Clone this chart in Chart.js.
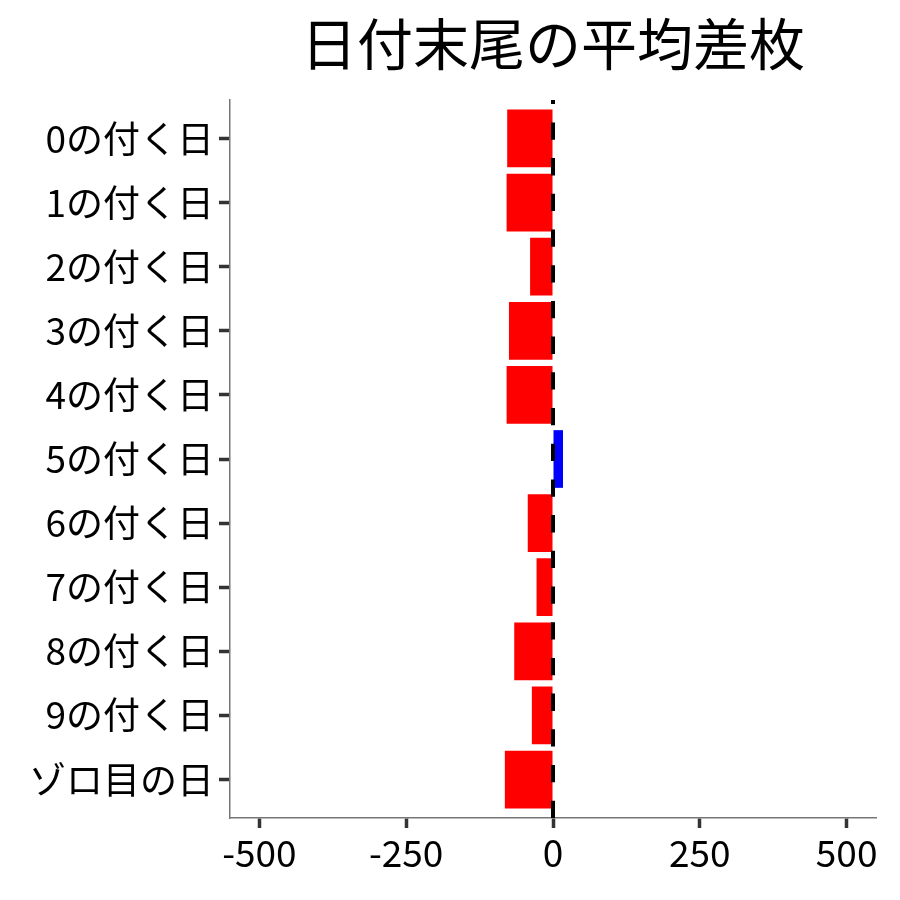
<!DOCTYPE html>
<html>
<head>
<meta charset="utf-8">
<script src="https://cdn.jsdelivr.net/npm/chart.js@4"></script>
<style>
  body { margin: 0; background: #fff; }
  #wrap { width: 900px; height: 900px; }
</style>
</head>
<body>
<div id="wrap"><canvas id="canvas"></canvas></div>
<script>
const chartTitle = '日付末尾の平均差枚'
const categories = ['0の付く日', '1の付く日', '2の付く日', '3の付く日', '4の付く日',
  '5の付く日', '6の付く日', '7の付く日', '8の付く日', '9の付く日', 'ゾロ目の日']
const avgDiff = [-78, -79, -39, -75, -79, 17, -43, -28, -66, -36, -82]
const xTicks = [-500, -250, 0, 250, 500]

const FONT = '"Noto Sans CJK JP", "Noto Sans", sans-serif'

// title centred over the panel, dashed line at zero
const extras = {
  id: 'extras',
  afterDatasetsDraw(chart) {
    const { ctx, chartArea, scales } = chart
    const x0 = scales.x.getPixelForValue(0)
    ctx.save()
    ctx.strokeStyle = '#000'
    ctx.lineWidth = 4
    ctx.setLineDash([17.3, 18.4])
    ctx.beginPath()
    ctx.moveTo(x0, chartArea.bottom)
    ctx.lineTo(x0, chartArea.top)
    ctx.stroke()
    ctx.restore()
  },
  afterDraw(chart) {
    const { ctx, chartArea } = chart
    ctx.save()
    ctx.fillStyle = '#000'
    ctx.font = '56px ' + FONT
    ctx.textAlign = 'center'
    ctx.textBaseline = 'middle'
    ctx.fillText(chartTitle, (chartArea.left + chartArea.right) / 2, 44)
    ctx.restore()
  }
}

const data = {
  datasets: [
    {
      data: avgDiff.map((v, i) => ({ x: v, y: i })),
      backgroundColor: avgDiff.map(v => v < 0 ? '#ff0000' : '#0000ff'),
      borderWidth: 0,
      barPercentage: 0.9,
      categoryPercentage: 1.0,
    },
  ],
}

const config = {
  type: 'bar',
  data: data,
  options: {
    indexAxis: 'y',
    responsive: true,
    maintainAspectRatio: false,
    animation: false,
    layout: { padding: { top: 100, right: 24, left: 0, bottom: 0 } },
    plugins: {
      legend: { display: false },
      tooltip: { enabled: false },
    },
    scales: {
      x: {
        type: 'linear',
        min: -550,
        max: 550,
        afterBuildTicks: s => { s.ticks = xTicks.map(v => ({ value: v })) },
        afterFit: s => { s.height = 82 },
        grid: { drawOnChartArea: false, drawTicks: true, tickLength: 10, tickWidth: 3.5, tickColor: '#333' },
        border: { display: true, color: '#777', width: 1.5 },
        ticks: { color: '#000', font: { family: FONT, size: 37 }, padding: 3, maxRotation: 0 },
      },
      y: {
        type: 'linear',
        reverse: true,
        offset: false,
        min: -0.6,
        max: 10.6,
        afterBuildTicks: s => { s.ticks = categories.map((c, i) => ({ value: i })) },
        afterFit: s => { s.width = 230 },
        grid: { offset: false, drawOnChartArea: false, drawTicks: true, tickLength: 11, tickWidth: 3.5, tickColor: '#333' },
        border: { display: true, color: '#777', width: 1.5 },
        ticks: {
          color: '#000',
          font: { family: FONT, size: 37 },
          padding: 5,
          autoSkip: false,
          callback: v => categories[v] ?? '',
        },
      },
    },
  },
  plugins: [extras],
}

const canvas = document.getElementById('canvas')
const chart = new Chart(canvas, config)
</script>
</body>
</html>
